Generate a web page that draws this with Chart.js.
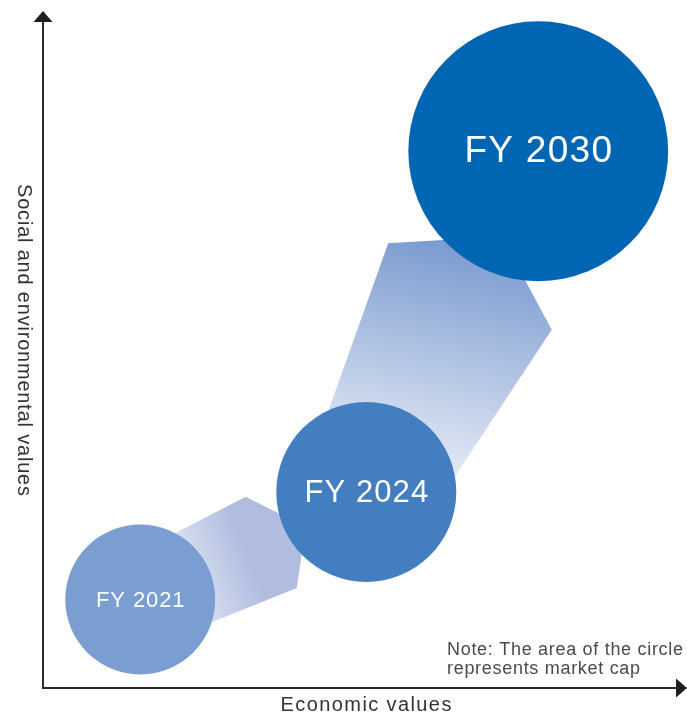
<!DOCTYPE html>
<html>
<head>
<meta charset="utf-8">
<script src="https://cdn.jsdelivr.net/npm/chart.js@4/dist/chart.umd.min.js"></script>
<style>
  html, body { margin: 0; padding: 0; background: #ffffff; }
  #wrap { width: 687px; height: 717px; }
</style>
</head>
<body>
<div id="wrap"><canvas id="c" width="687" height="717"></canvas></div>
<script>
// ---- Data ----
const categories = ['FY 2021', 'FY 2024', 'FY 2030'];
const economicValues = [15.1, 50.2, 76.9];        // x (relative units)
const socialValues = [13.1, 29.0, 79.4];          // y (relative units)
const marketCap = [100, 144, 300];                // relative market cap (circle area)
const circleColors = ['#7b9ed2', '#437ec0', '#0066b3'];
const labelSizes = [22, 31, 37];
const labelSpacing = [0.9, 1.1, 1.3];

// Decorative arrow shapes between years (relative units)
const arrowSmallX = [16.6, 31.5, 40.8, 39.4, 26.4, 19.7];
const arrowSmallY = [21.0, 28.3, 23.8, 14.8, 9.8, 7.3];
const arrowBigX = [53.6, 67.9, 72.5, 79.0, 60.1, 42.7];
const arrowBigY = [65.8, 66.6, 64.5, 53.0, 25.7, 36.7];

const xTitle = 'Economic values';
const yTitle = 'Social and environmental values';
const noteLines = ['Note: The area of the circle', 'represents market cap'];

const FONT = '"Liberation Sans", Arial, sans-serif';
const radiusScale = 7.5;

const points = categories.map((c, i) => ({
  x: economicValues[i], y: socialValues[i], r: radiusScale * Math.sqrt(marketCap[i])
}));

function centeredText(ctx, text, x, y, spacing) {
  ctx.letterSpacing = spacing + 'px';
  const w = ctx.measureText(text).width - spacing;
  ctx.textAlign = 'left';
  ctx.fillText(text, x - w / 2, y);
  ctx.letterSpacing = '0px';
}

const decorPlugin = {
  id: 'decor',
  beforeDatasetsDraw(chart) {
    const ctx = chart.ctx;
    const xs = chart.scales.x, ys = chart.scales.y;
    const poly = (ax, ay) => {
      ctx.beginPath();
      ax.forEach((v, i) => {
        const px = xs.getPixelForValue(v), py = ys.getPixelForValue(ay[i]);
        if (i === 0) ctx.moveTo(px, py); else ctx.lineTo(px, py);
      });
      ctx.closePath();
    };
    ctx.save();
    let g = ctx.createLinearGradient(xs.getPixelForValue(21), ys.getPixelForValue(15),
                                     xs.getPixelForValue(32), ys.getPixelForValue(19));
    g.addColorStop(0, '#e2e7f4');
    g.addColorStop(1, '#b0bde0');
    poly(arrowSmallX, arrowSmallY);
    ctx.fillStyle = g;
    ctx.fill();
    g = ctx.createLinearGradient(xs.getPixelForValue(62), ys.getPixelForValue(66),
                                 xs.getPixelForValue(54), ys.getPixelForValue(29));
    g.addColorStop(0, '#7b9bd0');
    g.addColorStop(1, '#f1f4fa');
    poly(arrowBigX, arrowBigY);
    ctx.fillStyle = g;
    ctx.fill();
    ctx.restore();
  },
  afterDatasetsDraw(chart) {
    const ctx = chart.ctx;
    const meta = chart.getDatasetMeta(0);
    ctx.save();
    ctx.fillStyle = '#ffffff';
    ctx.textBaseline = 'middle';
    meta.data.forEach((el, i) => {
      ctx.font = labelSizes[i] + 'px ' + FONT;
      centeredText(ctx, categories[i], el.x, el.y + 1, labelSpacing[i]);
    });
    ctx.restore();
  },
  afterDraw(chart) {
    const ctx = chart.ctx;
    const a = chart.chartArea;
    ctx.save();
    ctx.strokeStyle = '#2b2b2b';
    ctx.lineWidth = 2;
    ctx.beginPath();
    ctx.moveTo(a.left, a.top + 10);
    ctx.lineTo(a.left, a.bottom);
    ctx.lineTo(a.right - 10, a.bottom);
    ctx.stroke();
    ctx.fillStyle = '#1e1e1e';
    ctx.beginPath();
    ctx.moveTo(a.left, a.top - 1);
    ctx.lineTo(a.left - 9.5, a.top + 10);
    ctx.lineTo(a.left + 9.5, a.top + 10);
    ctx.closePath();
    ctx.fill();
    ctx.beginPath();
    ctx.moveTo(a.right, a.bottom);
    ctx.lineTo(a.right - 11, a.bottom - 9.5);
    ctx.lineTo(a.right - 11, a.bottom + 9.5);
    ctx.closePath();
    ctx.fill();
    ctx.fillStyle = '#333333';
    ctx.font = '20px ' + FONT;
    ctx.textBaseline = 'middle';
    centeredText(ctx, xTitle, 366, 705, 1.4);
    ctx.save();
    ctx.translate(24, 340);
    ctx.rotate(Math.PI / 2);
    centeredText(ctx, yTitle, 0, 0, 0.8);
    ctx.restore();
    ctx.fillStyle = '#4a4a4a';
    ctx.font = '18px ' + FONT;
    ctx.textAlign = 'left';
    ctx.textBaseline = 'alphabetic';
    ctx.letterSpacing = '0.7px';
    ctx.fillText(noteLines[0], 447, 655);
    ctx.fillText(noteLines[1], 447, 674);
    ctx.letterSpacing = '0px';
    ctx.restore();
  }
};

new Chart(document.getElementById('c'), {
  type: 'bubble',
  data: {
    datasets: [{
      label: 'Market cap',
      data: points,
      backgroundColor: circleColors,
      borderWidth: 0,
      hoverRadius: 0,
      clip: false
    }]
  },
  options: {
    responsive: false,
    animation: false,
    events: [],
    layout: { autoPadding: false, padding: { left: 43, right: 0, top: 12, bottom: 29 } },
    plugins: { legend: { display: false }, tooltip: { enabled: false } },
    scales: {
      x: { display: false, min: 0, max: 100 },
      y: { display: false, min: 0, max: 100 }
    }
  },
  plugins: [decorPlugin]
});
</script>
</body>
</html>
